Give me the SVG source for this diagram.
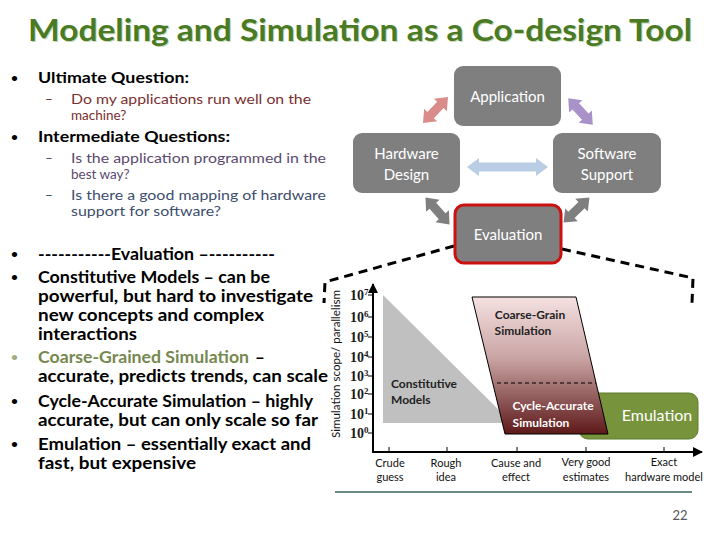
<svg xmlns="http://www.w3.org/2000/svg" width="720" height="540" viewBox="0 0 720 540">
<defs>
<linearGradient id="rule" x1="0" y1="0" x2="1" y2="0">
<stop offset="0" stop-color="#8fb0a4"/>
<stop offset="0.5" stop-color="#5f8c7c"/>
<stop offset="1" stop-color="#b9cec6"/>
</linearGradient>
<linearGradient id="para" x1="0" y1="0" x2="0" y2="1">
<stop offset="0" stop-color="#f5e1e1"/>
<stop offset="0.45" stop-color="#c9a3a3"/>
<stop offset="1" stop-color="#5e1919"/>
</linearGradient>
<marker id="ah" viewBox="0 0 10 10" refX="9" refY="5" markerWidth="5" markerHeight="5" orient="auto" markerUnits="strokeWidth">
<path d="M0,0 L10,5 L0,10 Z" fill="#000"/>
</marker>
<path id="dbl" d="M-18,0 L-7,-9 L-7,-4.5 L7,-4.5 L7,-9 L18,0 L7,9 L7,4.5 L-7,4.5 L-7,9 Z"/>
</defs>
<style>
text{font-family:Lato,"Open Sans","Liberation Sans",sans-serif}
.hd{font-size:15px;font-weight:bold;fill:#000}
.sub{font-size:13.5px}
.bl{font-size:17px;font-weight:bold;fill:#000}
.dot{font-size:12px;font-weight:bold;fill:#000}
.node rect{fill:#7f7f7f;rx:9px;ry:9px}
.ntx{font-size:15px;fill:#fff;text-anchor:middle}
.tk{font-family:"Liberation Serif","DejaVu Serif",serif;font-size:14px;font-weight:bold;fill:#1a1a1a}
.xl{font-size:11px;fill:#111;text-anchor:middle}
.ch{font-size:12px;font-weight:bold}
.dash{fill:none;stroke:#000;stroke-width:3;stroke-dasharray:9 6}
</style>
<rect width="720" height="540" fill="#fff"/>

<!-- title -->
<text x="361" y="42" font-size="31" font-weight="bold" fill="#c6d9b6" text-anchor="middle" textLength="664" lengthAdjust="spacingAndGlyphs">Modeling and Simulation as a Co-design Tool</text>
<text x="360" y="41" font-size="31" font-weight="bold" fill="#4a7a24" text-anchor="middle" textLength="664" lengthAdjust="spacingAndGlyphs">Modeling and Simulation as a Co-design Tool</text>
<line x1="0" y1="58" x2="720" y2="58" stroke="url(#rule)" stroke-width="2"/>

<!-- left questions -->
<text x="11" y="82" class="dot">•</text>
<text x="38" y="83" class="hd" textLength="151" lengthAdjust="spacingAndGlyphs">Ultimate Question:</text>
<text x="45" y="104" class="sub" fill="#7a2f2f">–</text>
<text x="71" y="104" class="sub" fill="#7a2f2f" textLength="240" lengthAdjust="spacingAndGlyphs">Do my applications run well on the</text>
<text x="71" y="120" class="sub" fill="#7a2f2f">machine?</text>
<text x="11" y="141" class="dot">•</text>
<text x="38" y="142" class="hd" textLength="192" lengthAdjust="spacingAndGlyphs">Intermediate Questions:</text>
<text x="45" y="163" class="sub" fill="#5b4a6e">–</text>
<text x="71" y="163" class="sub" fill="#5b4a6e" textLength="255" lengthAdjust="spacingAndGlyphs">Is the application programmed in the</text>
<text x="71" y="179" class="sub" fill="#5b4a6e">best way?</text>
<text x="45" y="200" class="sub" fill="#3d4e6e">–</text>
<text x="71" y="200" class="sub" fill="#3d4e6e" textLength="255" lengthAdjust="spacingAndGlyphs">Is there a good mapping of hardware</text>
<text x="71" y="216" class="sub" fill="#3d4e6e" textLength="150" lengthAdjust="spacingAndGlyphs">support for software?</text>

<!-- left evaluation bullets -->
<text x="11" y="258" class="dot">•</text>
<text x="38" y="260" class="bl" textLength="237" lengthAdjust="spacingAndGlyphs">-----------Evaluation –----------</text>
<text x="11" y="281" class="dot">•</text>
<text x="38" y="283" class="bl" textLength="232" lengthAdjust="spacingAndGlyphs">Constitutive Models – can be</text>
<text x="38" y="302" class="bl" textLength="275" lengthAdjust="spacingAndGlyphs">powerful, but hard to investigate</text>
<text x="38" y="321" class="bl" textLength="226" lengthAdjust="spacingAndGlyphs">new concepts and complex</text>
<text x="38" y="340" class="bl" textLength="99" lengthAdjust="spacingAndGlyphs">interactions</text>
<text x="11" y="361" class="dot" style="fill:#a3ad86">•</text>
<text x="38" y="363" class="bl" style="fill:#76884f" textLength="211" lengthAdjust="spacingAndGlyphs">Coarse-Grained Simulation</text>
<text x="255" y="363" class="bl">–</text>
<text x="38" y="382" class="bl" textLength="290" lengthAdjust="spacingAndGlyphs">accurate, predicts trends, can scale</text>
<text x="11" y="405" class="dot">•</text>
<text x="38" y="407" class="bl" textLength="275" lengthAdjust="spacingAndGlyphs">Cycle-Accurate Simulation – highly</text>
<text x="38" y="426" class="bl" textLength="280" lengthAdjust="spacingAndGlyphs">accurate, but can only scale so far</text>
<text x="11" y="448" class="dot">•</text>
<text x="38" y="450" class="bl" textLength="273" lengthAdjust="spacingAndGlyphs">Emulation – essentially exact and</text>
<text x="38" y="469" class="bl" textLength="158" lengthAdjust="spacingAndGlyphs">fast, but expensive</text>

<!-- connectors -->
<g id="connectors">
<use href="#dbl" fill="#d98c8a" transform="translate(435.5,110) rotate(-46)"/>
<use href="#dbl" fill="#a992c9" transform="translate(580.5,111.5) rotate(47)"/>
<path d="M-40.5,0 L-28.5,-9 L-28.5,-4.5 L28.5,-4.5 L28.5,-9 L40.5,0 L28.5,9 L28.5,4.5 L-28.5,4.5 L-28.5,9 Z" fill="#b9cde5" transform="translate(507.5,167)"/>
<use href="#dbl" fill="#7f7f7f" transform="translate(437.5,211) rotate(48)"/>
<use href="#dbl" fill="#7f7f7f" transform="translate(576.5,210) rotate(-44)"/>
<path class="dash" d="M454,246 L325,282 L324,303"/>
<path class="dash" d="M562,249 L693,278 L692,303"/>
</g>

<!-- nodes -->
<g id="application" class="node">
<rect x="454" y="66" width="107" height="60"/>
<text x="507.5" y="102" class="ntx">Application</text>
</g>
<g id="hardware-design" class="node">
<rect x="353" y="133" width="107" height="60"/>
<text x="406.5" y="159" class="ntx">Hardware</text>
<text x="406.5" y="180" class="ntx">Design</text>
</g>
<g id="software-support" class="node">
<rect x="553" y="133" width="108" height="60"/>
<text x="607" y="159" class="ntx">Software</text>
<text x="607" y="180" class="ntx">Support</text>
</g>
<g id="evaluation" class="node">
<rect x="455" y="205" width="106" height="58" style="stroke:#cc1111;stroke-width:3"/>
<text x="508" y="240" class="ntx">Evaluation</text>
</g>

<!-- chart -->
<g id="chart">
<polygon points="383,295 512,423 383,423" fill="#c0c0c0"/>
<g id="emulation">
<rect x="579" y="393" width="119" height="46" rx="9" fill="#77933c" stroke="#5f7a2e" stroke-width="1"/>
<text x="657" y="421" font-size="16" fill="#fff" text-anchor="middle">Emulation</text>
</g>
<polygon points="472,297 576,297 608,434 505,434" fill="url(#para)" stroke="#000" stroke-width="1"/>
<line x1="497" y1="383" x2="596" y2="383" stroke="#000" stroke-width="1" stroke-dasharray="4 3"/>
<text x="530" y="319" class="ch" fill="#222" text-anchor="middle">Coarse-Grain</text>
<text x="523" y="335" class="ch" fill="#222" text-anchor="middle">Simulation</text>
<text x="553" y="410" class="ch" fill="#fff" text-anchor="middle">Cycle-Accurate</text>
<text x="541" y="427" class="ch" fill="#fff" text-anchor="middle">Simulation</text>
<text x="391" y="388" class="ch" fill="#222">Constitutive</text>
<text x="391" y="404" class="ch" fill="#222">Models</text>

<line x1="373" y1="453" x2="373" y2="284" stroke="#000" stroke-width="2" marker-end="url(#ah)"/>
<line x1="372" y1="452" x2="702" y2="452" stroke="#000" stroke-width="2" marker-end="url(#ah)"/>
<g stroke="#000" stroke-width="1">
<line x1="368" y1="295" x2="373" y2="295"/>
<line x1="368" y1="317" x2="373" y2="317"/>
<line x1="368" y1="337" x2="373" y2="337"/>
<line x1="368" y1="357" x2="373" y2="357"/>
<line x1="368" y1="376" x2="373" y2="376"/>
<line x1="368" y1="394" x2="373" y2="394"/>
<line x1="368" y1="414" x2="373" y2="414"/>
<line x1="368" y1="433" x2="373" y2="433"/>
<line x1="389" y1="447" x2="389" y2="452"/>
<line x1="447" y1="447" x2="447" y2="452"/>
<line x1="517" y1="447" x2="517" y2="452"/>
<line x1="586" y1="447" x2="586" y2="452"/>
<line x1="664" y1="447" x2="664" y2="452"/>
</g>
<text x="350" y="300" class="tk">10<tspan dy="-5" font-size="9">7</tspan></text>
<text x="350" y="322" class="tk">10<tspan dy="-5" font-size="9">6</tspan></text>
<text x="350" y="342" class="tk">10<tspan dy="-5" font-size="9">5</tspan></text>
<text x="350" y="362" class="tk">10<tspan dy="-5" font-size="9">4</tspan></text>
<text x="350" y="381" class="tk">10<tspan dy="-5" font-size="9">3</tspan></text>
<text x="350" y="399" class="tk">10<tspan dy="-5" font-size="9">2</tspan></text>
<text x="350" y="419" class="tk">10<tspan dy="-5" font-size="9">1</tspan></text>
<text x="350" y="438" class="tk">10<tspan dy="-5" font-size="9">0</tspan></text>
<text transform="translate(340,364) rotate(-90)" font-size="11" fill="#111" text-anchor="middle" textLength="148" lengthAdjust="spacingAndGlyphs">Simulation scope/ parallelism</text>

<text x="390" y="467" class="xl">Crude</text>
<text x="390" y="481" class="xl">guess</text>
<text x="446" y="467" class="xl">Rough</text>
<text x="446" y="481" class="xl">idea</text>
<text x="516" y="467" class="xl">Cause and</text>
<text x="516" y="481" class="xl">effect</text>
<text x="586" y="466" class="xl">Very good</text>
<text x="586" y="481" class="xl">estimates</text>
<text x="664" y="466" class="xl">Exact</text>
<text x="664" y="481" class="xl">hardware model</text>
</g>

<line x1="335" y1="492" x2="692" y2="492" stroke="#6a8a80" stroke-width="2"/>
<text x="680" y="520" font-size="13" fill="#555" text-anchor="middle">22</text>
</svg>
